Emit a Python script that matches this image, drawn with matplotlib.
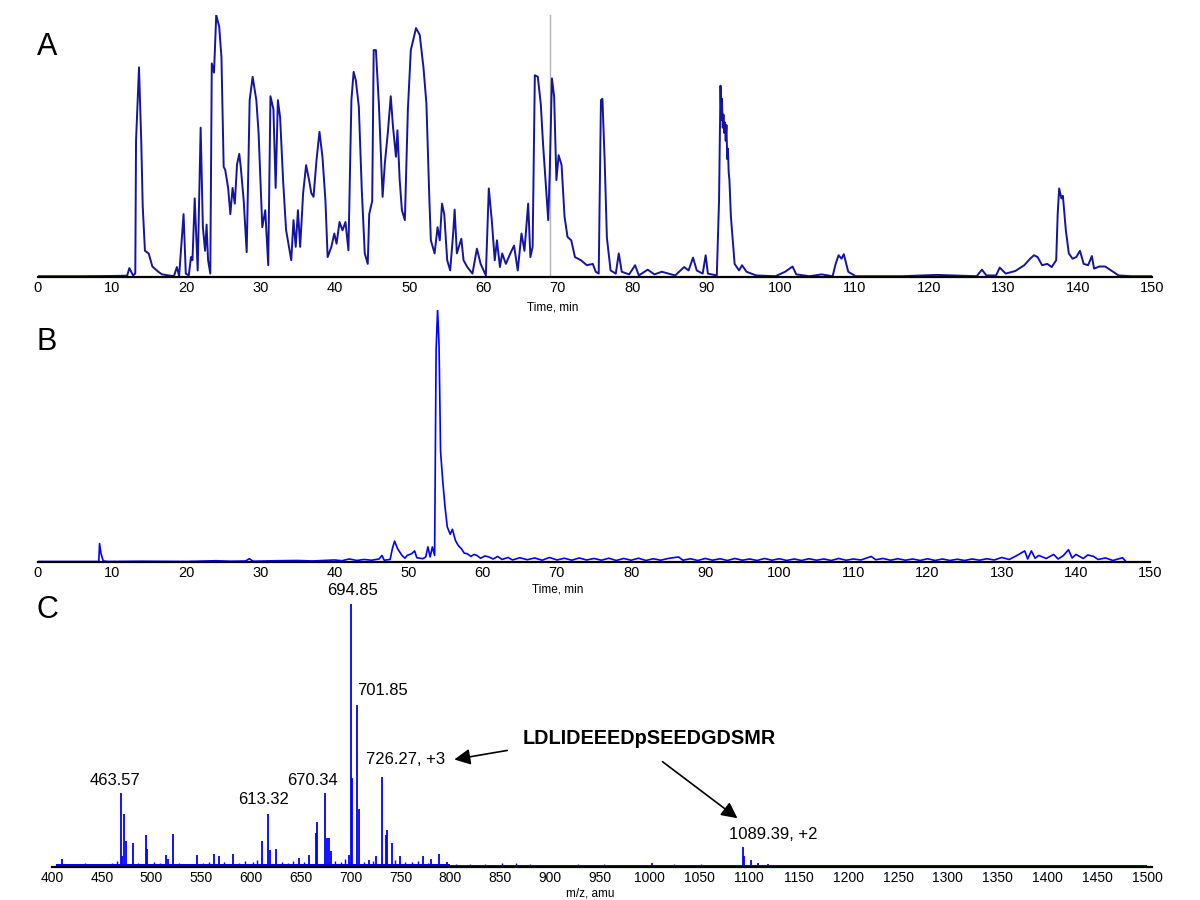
import matplotlib.pyplot as plt

plt.rcParams['font.family'] = ['Liberation Sans', 'DejaVu Sans']

# ---- panel A: total ion chromatogram, (time in min, relative intensity %)
tic = [(0, 0.3), (5, 0.3), (10, 0.4), (12.0, 0.5), (12.3, 3.4), (12.8, 0.6), (13.1, 1.3),
       (13.2, 52), (13.6, 80), (13.9, 52), (14.1, 27), (14.4, 10), (14.9, 9), (15.4, 4),
       (16.2, 2), (16.7, 1), (18.3, 0.3), (18.7, 3.8), (19.0, 0.3), (19.6, 24), (19.9, 1.3),
       (20.3, 0.6), (20.6, 7.6), (20.8, 6.4), (21.1, 30), (21.5, 2.5), (21.9, 57), (22.2, 19),
       (22.5, 10), (22.7, 20), (22.9, 6.4), (23.2, 1.3), (23.4, 81.5), (23.7, 78), (24.0, 100),
       (24.4, 95.5), (24.7, 84), (25.0, 42), (25.2, 41), (25.6, 34), (25.9, 24), (26.2, 34),
       (26.5, 28), (26.8, 43), (27.1, 47), (27.3, 42), (27.7, 29), (28.1, 9.5), (28.5, 67.5),
       (28.9, 76.4), (29.4, 67.5), (29.7, 55), (30.2, 19), (30.6, 25.5), (31.0, 4.5),
       (31.3, 69), (31.7, 64), (32.0, 34), (32.3, 67.5), (32.6, 61), (33.0, 37), (33.4, 18),
       (33.8, 11.5), (34.1, 6.4), (34.4, 21.7), (34.7, 11.5), (35.0, 25.5), (35.3, 11.5),
       (35.7, 32), (36.1, 42.7), (36.5, 37), (36.8, 32), (37.1, 30.6), (37.5, 44.6),
       (37.9, 55.4), (38.3, 45.9), (38.7, 29.3), (39.0, 7.6), (39.5, 11.5), (39.9, 16.6),
       (40.2, 12.7), (40.6, 21), (41.0, 17.8), (41.4, 21), (41.8, 10.2), (42.2, 67.5),
       (42.5, 78.3), (42.8, 75), (43.2, 65), (43.6, 33), (44.0, 9), (44.4, 5), (44.6, 24),
       (45.0, 29), (45.2, 86.6), (45.5, 86.6), (45.9, 66), (46.4, 30.6), (46.7, 43.3),
       (47.1, 55), (47.5, 69), (47.8, 57.3), (48.2, 45.9), (48.4, 56), (48.7, 37), (49.0, 25.5),
       (49.4, 21.7), (49.8, 63.7), (50.2, 86.6), (50.9, 95), (51.4, 92.4), (51.9, 80),
       (52.3, 66.2), (52.7, 29.3), (52.9, 14), (53.4, 9), (53.8, 19), (54.1, 14), (54.4, 28),
       (54.7, 24), (55.1, 6.4), (55.5, 2.5), (55.9, 16.6), (56.1, 25.7), (56.4, 9), (57.0, 14.6),
       (57.3, 6.4), (57.8, 3.8), (58.5, 1.3), (59.1, 10.8), (59.6, 5), (60.3, 0.6), (60.7, 33.8),
       (61.1, 21.7), (61.5, 6.4), (61.8, 14), (62.2, 3.8), (62.5, 9), (63.0, 5), (63.6, 9),
       (64.1, 12), (64.6, 2.5), (65.1, 16.6), (65.5, 10), (66.0, 28), (66.3, 7.6), (66.6, 11.5),
       (66.9, 77), (67.3, 76.4), (67.7, 66), (68.0, 51), (68.4, 34.4), (68.7, 21.7), (68.9, 39.5),
       (69.2, 75.8), (69.5, 68.8), (69.8, 37), (70.1, 46.5), (70.5, 42.7), (70.9, 23),
       (71.3, 15.3), (71.8, 14), (72.3, 7.6), (73.1, 6.4), (73.9, 4.5), (74.7, 5), (75.1, 2),
       (75.5, 1.3), (75.8, 67.5), (76.0, 68), (76.3, 44.6), (76.6, 15), (77.1, 2.5), (77.8, 1.3),
       (78.2, 9), (78.6, 2), (79.6, 1), (80.4, 4.5), (80.9, 0.6), (82.1, 2.8), (83.0, 1),
       (84.0, 2), (85.8, 0.6), (87.0, 3.8), (87.6, 2.5), (88.2, 7.4), (88.7, 2.5), (89.5, 1.3),
       (89.9, 8.3), (90.2, 1.3), (91.4, 0.6), (91.7, 29), (91.9, 73), (92.0, 60), (92.1, 68),
       (92.2, 57), (92.3, 62), (92.4, 55), (92.5, 59), (92.6, 52), (92.7, 58), (92.8, 45),
       (92.9, 49), (93.0, 40), (93.1, 37), (93.3, 23), (93.8, 5), (94.4, 2.5), (94.8, 4.5),
       (95.4, 2), (96.7, 0.6), (99.3, 0.3), (100.6, 2), (101.6, 4), (102.1, 1), (103.9, 0.3),
       (105.5, 1), (107.0, 0.3), (107.4, 5), (107.8, 8.3), (108.2, 7), (108.5, 8.7), (109.1, 2),
       (110.1, 0.3), (116.3, 0.3), (121.0, 0.8), (126.4, 0.3), (127.1, 2.8), (127.7, 0.6),
       (129.0, 0.6), (129.5, 3.6), (130.3, 1.3), (131.6, 2.3), (132.8, 4.5), (133.6, 7),
       (134.1, 8.3), (134.6, 7.6), (135.2, 4.5), (135.9, 5), (136.5, 3.8), (137.1, 6.4),
       (137.3, 24), (137.5, 33.8), (137.8, 30), (138.0, 31), (138.4, 17.8), (138.8, 9),
       (139.3, 7), (139.8, 7.6), (140.3, 10), (140.8, 5), (141.4, 4.5), (141.9, 8), (142.2, 3.2),
       (142.9, 4), (143.7, 4), (144.5, 2.5), (145.5, 0.6), (147.3, 0.3), (150.0, 0.3)]
marker_time = 69.0

# ---- panel B: extracted ion chromatogram (time in min, relative intensity %)
xic = [(0, 0.2), (8.2, 0.2), (8.3, 7.3), (8.5, 3.3), (8.8, 0.4), (9.5, 0.2), (14, 0.3),
       (20, 0.2), (24, 0.5), (26, 0.3), (28, 0.4), (28.5, 1.3), (29, 0.3), (32, 0.5), (35, 0.6),
       (37, 0.4), (40, 0.8), (41, 0.5), (42, 1.2), (43, 0.6), (44, 1.0), (45, 0.7), (46, 1.2),
       (46.4, 2.6), (46.7, 0.7), (47.5, 1.0), (47.8, 5.3), (48.1, 8.3), (48.5, 5.3), (49.1, 2.6),
       (49.5, 1.5), (49.8, 2.6), (50.4, 3.3), (50.8, 4.4), (51.1, 1.7), (51.9, 1.3), (52.3, 2.0),
       (52.6, 6.0), (52.9, 2.0), (53.2, 6.0), (53.5, 2.6), (53.7, 84), (53.9, 100), (54.1, 86),
       (54.3, 44), (54.6, 32), (54.9, 22), (55.2, 14), (55.6, 11), (55.9, 13), (56.3, 8.6),
       (56.7, 6.5), (57.1, 5.3), (57.5, 3.5), (57.9, 3.3), (58.4, 2.2), (58.8, 3.0), (59.2, 2.6),
       (59.7, 1.5), (60.3, 2.4), (60.8, 2.0), (61.4, 1.2), (62.0, 2.2), (62.6, 1.0), (63.4, 1.8),
       (64, 0.8), (65, 1.7), (66, 0.9), (67, 1.6), (68, 0.7), (69, 1.8), (70, 0.8), (71, 1.5),
       (72, 0.7), (73, 1.6), (74, 0.8), (75, 1.4), (76, 0.7), (77, 1.5), (78, 0.6), (79, 1.4),
       (80, 0.7), (81, 1.5), (82, 0.6), (83, 1.3), (84, 0.7), (85, 1.4), (86.4, 2.0), (87, 0.7),
       (88, 1.3), (89, 0.6), (90, 1.4), (91, 0.7), (92, 1.3), (93, 0.6), (94, 1.4), (95, 0.7),
       (96, 1.2), (97, 0.6), (98, 1.4), (99, 0.7), (100, 1.3), (101, 0.6), (102, 1.2), (103, 0.6),
       (104, 1.3), (105, 0.7), (106, 1.2), (107, 0.6), (108, 1.4), (109, 0.7), (110, 1.2),
       (111, 0.8), (112.4, 2.2), (113, 0.9), (114, 1.4), (115, 0.7), (116, 1.3), (117, 0.7),
       (118, 1.2), (119, 0.6), (120, 1.3), (121, 0.6), (122, 1.2), (123, 0.6), (124, 1.1),
       (125, 0.6), (126, 1.2), (127, 0.7), (128, 1.3), (129, 0.8), (130, 1.8), (131, 1.0),
       (132, 2.5), (133.1, 4.4), (133.5, 1.2), (134.0, 4.4), (134.5, 1.5), (135, 2.6),
       (136, 1.4), (137.0, 3.0), (137.6, 1.2), (138.3, 2.5), (139.0, 4.9), (139.5, 1.6),
       (140, 3.0), (141, 1.4), (141.6, 2.8), (142.4, 2.2), (143, 1.0), (144, 1.6), (145, 0.6),
       (146.3, 1.7), (146.8, 0.0), (150, 0.0)]

# ---- panel C: MS spectrum, (m/z, relative intensity)
ms_peaks = [(410, 0.03), (469, 0.28), (470, 0.04), (472.8, 0.20), (474, 0.10), (481, 0.09),
            (494, 0.12), (495.5, 0.07), (515, 0.045), (516.5, 0.03), (521.5, 0.125),
            (545.5, 0.045), (563, 0.05), (567.6, 0.04), (581.7, 0.05), (610.7, 0.10),
            (617, 0.20), (619, 0.065), (625, 0.07), (648, 0.035), (658, 0.045), (665, 0.13),
            (666, 0.17), (674.7, 0.28), (676, 0.11), (678.5, 0.11), (680, 0.06), (698, 0.045),
            (700, 1.0), (701, 0.34), (706.7, 0.615), (708, 0.22), (718, 0.026), (725, 0.04),
            (732, 0.344), (735.7, 0.12), (737, 0.14), (741.8, 0.09), (749.4, 0.043), (773, 0.04),
            (781, 0.03), (789, 0.048), (797, 0.02), (1003, 0.014), (1094, 0.075), (1095, 0.04),
            (1102.5, 0.026), (1109, 0.014), (1119, 0.01)]
ms_noise = [(404, 0.008), (415, 0.012), (425, 0.01), (433, 0.014), (441, 0.011), (452, 0.013),
            (460, 0.016), (465, 0.022), (486, 0.015), (502, 0.018), (508, 0.014), (528, 0.016),
            (535, 0.012), (552, 0.014), (558, 0.018), (573, 0.02), (588, 0.016), (594, 0.022),
            (602, 0.018), (606, 0.026), (631, 0.02), (637, 0.016), (642, 0.022), (653, 0.02),
            (684, 0.024), (690, 0.018), (694, 0.03), (713, 0.02), (722, 0.022), (745, 0.026),
            (755, 0.02), (762, 0.018), (768, 0.022), (778, 0.016), (806, 0.012), (820, 0.01),
            (835, 0.012), (852, 0.014), (866, 0.016), (880, 0.01), (903, 0.008), (928, 0.012),
            (955, 0.01), (985, 0.008), (1025, 0.01), (1052, 0.01), (1072, 0.008), (1140, 0.008),
            (1190, 0.006), (1240, 0.006), (1300, 0.005), (1350, 0.006), (1408, 0.008),
            (1450, 0.005)]
ms_floor = [(404, 800, 0.012), (800, 1500, 0.006)]
peak_labels = [("463.57", 462.9, 0.327), ("613.32", 612.2, 0.255), ("670.34", 661.7, 0.327),
               ("694.85", 702.0, 1.053), ("701.85", 731.5, 0.673), ("726.27, +3", 755.5, 0.407),
               ("1089.39, +2", 1125.0, 0.125)]
peptide = "LDLIDEEEDpSEEDGDSMR"


def style_axis(ax, xticks, size):
    for s in ['left', 'right', 'top']:
        ax.spines[s].set_visible(False)
    ax.spines['bottom'].set_linewidth(1.6)
    ax.set_yticks([])
    ax.set_xticks(xticks)
    ax.tick_params(axis='x', length=0, pad=3, labelsize=size)


fig = plt.figure(figsize=(12, 9), dpi=100)

# panel A
axA = fig.add_axes([38 / 1200, 1 - 277 / 900, 1114 / 1200, 262 / 900])
axA.axvline(marker_time, color='#b4b4b4', lw=1.0)
axA.plot([p[0] for p in tic], [p[1] for p in tic], color='#1414a0', lw=1.4)
axA.set_xlim(0, 150)
axA.set_ylim(0, 100)
style_axis(axA, range(0, 151, 10), 10.5)
fig.text(553 / 1200, 1 - 308 / 900, "Time, min", ha='center', va='center', fontsize=8.5)
fig.text(47 / 1200, 1 - 47 / 900, "A", ha='center', va='center', fontsize=22)

# panel B
axB = fig.add_axes([38 / 1200, 1 - 562 / 900, 1112 / 1200, 252 / 900])
axB.plot([p[0] for p in xic], [p[1] for p in xic], color='#0000ff', lw=1.2)
axB.set_xlim(0, 150)
axB.set_ylim(0, 100)
style_axis(axB, range(0, 151, 10), 10.5)
fig.text(558 / 1200, 1 - 589 / 900, "Time, min", ha='center', va='center', fontsize=8.5)
fig.text(47 / 1200, 1 - 342 / 900, "B", ha='center', va='center', fontsize=22)

# panel C
axC = fig.add_axes([52 / 1200, 1 - 867 / 900, 1100 / 1200, 263 / 900])
for x0, x1, h in ms_floor:
    axC.fill_between([x0, x1], 0, h, color='#0000ff', lw=0)
axC.vlines([p[0] for p in ms_noise], 0, [p[1] for p in ms_noise], color='#0000ff', lw=1.0)
axC.vlines([p[0] for p in ms_peaks], 0, [p[1] for p in ms_peaks], color='#0000ff', lw=1.3)
axC.set_xlim(400, 1505)
axC.set_ylim(0, 1)
style_axis(axC, range(400, 1501, 50), 10)
for txt, x, y in peak_labels:
    axC.text(x, y, txt, ha='center', va='center', fontsize=12, clip_on=False)
axC.text(999.7, 0.49, peptide, ha='center', va='center', fontsize=14.3, fontweight='bold')
axC.annotate("", xy=(801.4, 0.407), xytext=(860, 0.445),
             arrowprops=dict(arrowstyle='-|>', color='black', lw=1.2, mutation_scale=24))
axC.annotate("", xy=(1090.8, 0.179), xytext=(1011, 0.407),
             arrowprops=dict(arrowstyle='-|>', color='black', lw=1.2, mutation_scale=24))
fig.text(590 / 1200, 1 - 893 / 900, "m/z, amu", ha='center', va='center', fontsize=8.5)
fig.text(47 / 1200, 1 - 610 / 900, "C", ha='center', va='center', fontsize=22)

fig.savefig("out.png", dpi=100)
